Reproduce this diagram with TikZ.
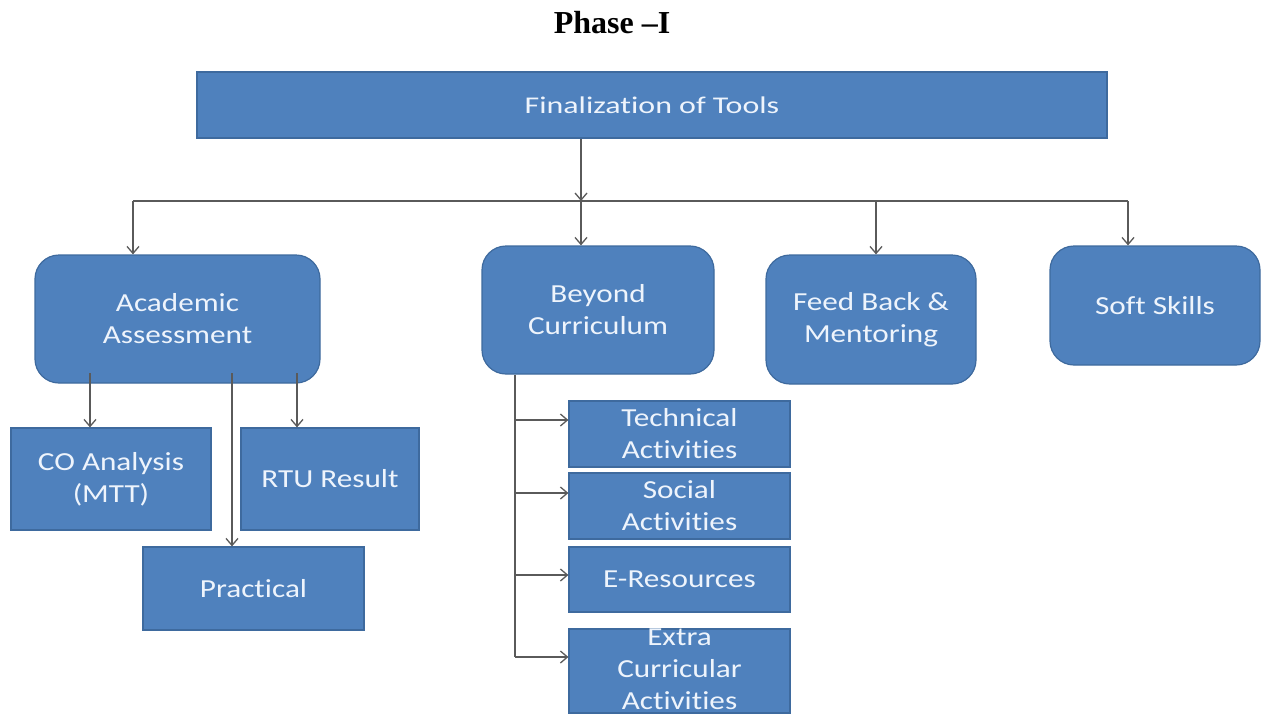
\documentclass[tikz,border=0pt]{standalone}
\usepackage{fontspec}
\setmainfont{Liberation Serif}
\newfontfamily\boxfont[FakeStretch=1.2,RawFeature=-liga]{Carlito}
\newfontfamily\topfont[FakeStretch=1.33,RawFeature=-liga]{Carlito}
\usetikzlibrary{arrows.meta,calc}
\definecolor{boxblue}{HTML}{4F81BD}
\definecolor{boxedge}{HTML}{3E6A9E}
\definecolor{boxtext}{HTML}{EEF4FC}
\definecolor{linegray}{HTML}{5A5A5A}
\tikzset{
  blk/.style={draw=boxedge, line width=1.2pt, fill=boxblue, text=boxtext,
    font=\boxfont\fontsize{26}{32}\selectfont, align=center, inner sep=0pt},
  rbox/.style={blk, rounded corners=24pt},
  conn/.style={draw=linegray, line width=1.3pt},
  arr/.style={conn, -{Straight Barb[length=7pt,width=12pt]}},
}
\begin{document}
\begin{tikzpicture}[x=1pt,y=-1pt]
\useasboundingbox (0,0) rectangle (1263,715);
% title
\node[anchor=base, font=\bfseries\fontsize{32}{36}\selectfont, inner sep=0pt] (title) at (612,33) {Phase –I};
% top
\node[blk, minimum width=910pt, minimum height=66pt, font=\topfont\fontsize{24}{28}\selectfont] (top) at (652,105) {Finalization of Tools};
% second level
\node[rbox, minimum width=285pt, minimum height=128pt] (acad) at (177.5,319) {Academic\\Assessment};
\node[rbox, minimum width=232pt, minimum height=128pt] (beyond) at (598,310) {Beyond\\Curriculum};
\node[rbox, minimum width=210pt, minimum height=129pt] (feed) at (871,319.5) {Feed Back \&\\Mentoring};
\node[rbox, minimum width=210pt, minimum height=119pt] (soft) at (1155,305.5) {Soft Skills};
% academic children
\node[blk, minimum width=200pt, minimum height=102pt] (co) at (111,479) {CO Analysis\\(MTT)};
\node[blk, minimum width=178pt, minimum height=102pt] (rtu) at (330,479) {RTU Result};
\node[blk, minimum width=221pt, minimum height=83pt] (prac) at (253.5,588.5) {Practical};
% beyond children
\node[blk, minimum width=221pt, minimum height=66pt] (tech) at (679.5,434) {Technical\\Activities};
\node[blk, minimum width=221pt, minimum height=66pt] (social) at (679.5,506) {Social\\Activities};
\node[blk, minimum width=221pt, minimum height=65pt] (eres) at (679.5,579.5) {E-Resources};
\node[blk, minimum width=221pt, minimum height=84pt] (extra) at (679.5,671) {\raisebox{-6pt}[0pt][0pt]{\begin{tabular}{@{}c@{}}Extra\\Curricular\\Activities\end{tabular}}};
% top connectors
\coordinate (hub) at (581,201);
\coordinate (hL) at (133,201);
\coordinate (hF) at (876,201);
\coordinate (hR) at (1128,201);
\draw[arr] (top.south -| hub) -- (hub);
\draw[conn] (hL) -- (hR);
\draw[arr] (hL) -- (hL |- acad.north);
\draw[arr] (hub) -- (hub |- beyond.north);
\draw[arr] (hF) -- (hF |- feed.north);
\draw[arr] (hR) -- (hR |- soft.north);
% academic connectors
\coordinate (a1) at (90,373);
\coordinate (a2) at (232,373);
\coordinate (a3) at (297,373);
\draw[arr] (a1) -- (a1 |- co.north);
\draw[arr] (a2) -- (a2 |- prac.north);
\draw[arr] (a3) -- (a3 |- rtu.north);
% beyond connectors
\coordinate (b1) at (515,420);
\coordinate (b2) at (515,493);
\coordinate (b3) at (515,575);
\coordinate (b4) at (515,657);
\draw[conn] (beyond.south -| b1) -- (b4);
\draw[arr] (b1) -- (b1 -| tech.west);
\draw[arr] (b2) -- (b2 -| social.west);
\draw[arr] (b3) -- (b3 -| eres.west);
\draw[arr] (b4) -- (b4 -| extra.west);
\end{tikzpicture}
\end{document}
